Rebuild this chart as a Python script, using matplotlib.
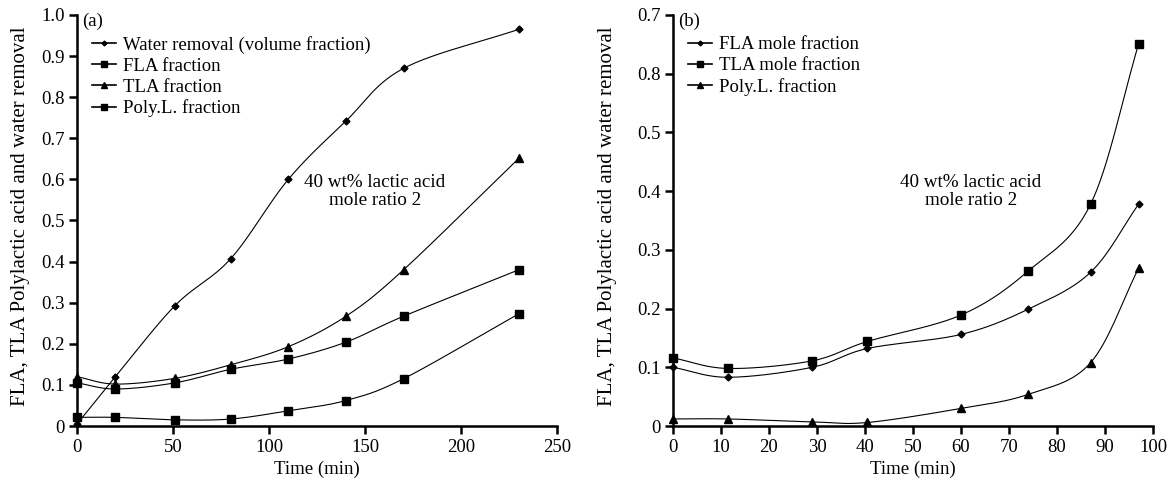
import numpy as np
import matplotlib
matplotlib.use("Agg")
from matplotlib import pyplot as plt

plt.rcParams['font.family'] = ['Liberation Serif', 'DejaVu Serif']

# panel (a)
time_a = [0, 20, 51, 80, 110, 140, 170, 230]
water = [0.005, 0.12, 0.293, 0.407, 0.60, 0.742, 0.87, 0.965]
fla_a = [0.105, 0.09, 0.105, 0.138, 0.163, 0.204, 0.267, 0.38]
tla_a = [0.12, 0.102, 0.116, 0.149, 0.193, 0.267, 0.38, 0.651]
poly_a = [0.021, 0.021, 0.015, 0.017, 0.037, 0.062, 0.115, 0.273]

# panel (b)
time_b = [0, 11.5, 29, 40.5, 60, 74, 87, 97]
fla_b = [0.1, 0.083, 0.1, 0.132, 0.156, 0.199, 0.262, 0.378]
tla_b = [0.116, 0.098, 0.111, 0.144, 0.189, 0.264, 0.378, 0.651]
poly_b = [0.012, 0.012, 0.007, 0.006, 0.03, 0.054, 0.108, 0.269]

yticks_a = [0, 0.1, 0.2, 0.3, 0.4, 0.5, 0.6, 0.7, 0.8, 0.9, 1.0]
ylabels_a = ["0", "0.1", "0.2", "0.3", "0.4", "0.5", "0.6", "0.7", "0.8", "0.9", "1.0"]
yticks_b = [0, 0.1, 0.2, 0.3, 0.4, 0.5, 0.6, 0.7]
ylabels_b = ["0", "0.1", "0.2", "0.3", "0.4", "0.5", "0.8", "0.7"]

FS = 13.5


def smooth(x, y, n=30):
    # Catmull-Rom curve through the points, like a spreadsheet "smoothed line"
    x = np.asarray(x, float)
    y = np.asarray(y, float)
    px = np.concatenate([[2 * x[0] - x[1]], x, [2 * x[-1] - x[-2]]])
    py = np.concatenate([[2 * y[0] - y[1]], y, [2 * y[-1] - y[-2]]])
    xs, ys = [], []
    t = np.linspace(0, 1, n)
    for i in range(1, len(px) - 2):
        for p, out in ((px, xs), (py, ys)):
            p0, p1, p2, p3 = p[i - 1], p[i], p[i + 1], p[i + 2]
            out.extend(0.5 * ((2 * p1) + (-p0 + p2) * t
                              + (2 * p0 - 5 * p1 + 4 * p2 - p3) * t ** 2
                              + (-p0 + 3 * p1 - 3 * p2 + p3) * t ** 3))
    return xs, ys


def series(ax, x, y, marker, ms, label):
    xs, ys = smooth(x, y)
    ax.plot(xs, ys, color='black', lw=0.8, zorder=2)
    ax.plot(x, y, ls='none', marker=marker, ms=ms, color='black', zorder=3, clip_on=False)
    ax.plot([], [], color='black', lw=1.2, marker=marker, ms=ms * 0.7, label=label)


def style(ax, xlim, ylim, yt, yl, xt, ylab_x):
    ax.set_xlim(*xlim)
    ax.set_ylim(*ylim)
    ax.set_yticks(yt)
    ax.set_yticklabels(yl)
    ax.set_xticks(xt)
    ax.set_xticklabels([str(v) for v in xt])
    for s in ['top', 'right']:
        ax.spines[s].set_visible(False)
    for s in ['left', 'bottom']:
        ax.spines[s].set_linewidth(1.8)
    ax.tick_params(direction='out', length=6, width=1.8, labelsize=FS, pad=3)
    ax.set_xlabel("Time (min)", fontsize=FS)
    ax.set_ylabel("FLA, TLA Polylactic acid and water removal", fontsize=15)
    ax.xaxis.set_label_coords(0.5, -0.085)
    ax.yaxis.set_label_coords(ylab_x, 0.51)


fig = plt.figure(figsize=(11.71, 4.83), dpi=100)
ax1 = fig.add_axes([0.0658, 0.118, 0.41, 0.851])
ax2 = fig.add_axes([0.5747, 0.118, 0.41, 0.851])

series(ax1, time_a, water, 'D', 3.5, "Water removal (volume fraction)")
series(ax1, time_a, fla_a, 's', 6, "FLA fraction")
series(ax1, time_a, tla_a, '^', 6, "TLA fraction")
series(ax1, time_a, poly_a, 's', 6, "Poly.L. fraction")
style(ax1, (0, 250), (0, 1.0), yticks_a, ylabels_a, [0, 50, 100, 150, 200, 250], -0.097)

series(ax2, time_b, fla_b, 'D', 3.5, "FLA mole fraction")
series(ax2, time_b, tla_b, 's', 6, "TLA mole fraction")
series(ax2, time_b, poly_b, '^', 6, "Poly.L. fraction")
style(ax2, (0, 100), (0, 0.7), yticks_b, ylabels_b, list(range(0, 101, 10)), -0.117)

for ax, tag in ((ax1, "(a)"), (ax2, "(b)")):
    ax.text(0.01, 1.005, tag, transform=ax.transAxes, fontsize=FS, va='top', ha='left')
    ax.legend(loc='upper left', bbox_to_anchor=(0.0, 0.985), frameon=False, fontsize=FS,
              handlelength=1.3, handletextpad=0.35, labelspacing=0.2, borderpad=0.3)

ax1.text(0.62, 0.57, "40 wt% lactic acid\nmole ratio 2", transform=ax1.transAxes,
         fontsize=13.8, ha='center', va='center', linespacing=1.05)
ax2.text(0.62, 0.57, "40 wt% lactic acid\nmole ratio 2", transform=ax2.transAxes,
         fontsize=13.8, ha='center', va='center', linespacing=1.05)

fig.savefig("out.png", dpi=100)
